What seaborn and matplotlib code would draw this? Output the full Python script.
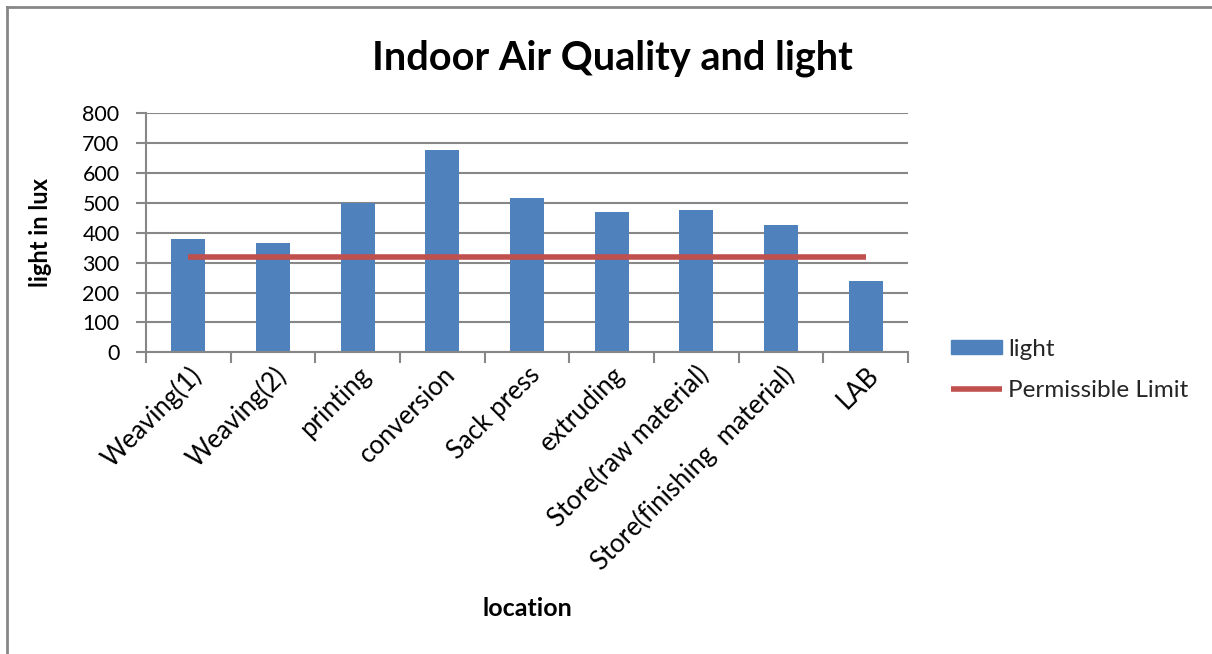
import numpy as np
import pandas as pd
import matplotlib
matplotlib.use("Agg")
import matplotlib.pyplot as plt
from matplotlib.patches import Patch
from matplotlib.lines import Line2D
import seaborn as sns

locations = ["Weaving(1)", "Weaving(2)", "printing", "conversion", "Sack press",
             "extruding", "Store(raw material)", "Store(finishing  material)", "LAB"]
light = [380, 366, 500, 677, 516, 470, 476, 426, 240]
permissible_limit = [320, 320, 320, 320, 320, 320, 320, 320, 320]
y_ticks = [0, 100, 200, 300, 400, 500, 600, 700, 800]

sns.set_theme(style="white")
plt.rcParams["font.family"] = ["Lato", "DejaVu Sans"]

BAR = "#4F81BD"
LINE = "#C0504D"
GRID = "#878787"

fig = plt.figure(figsize=(12.12, 6.54), dpi=100)
ax = fig.add_axes([146 / 1212, 1 - 352.3 / 654, 762 / 1212, 239 / 654])

df = pd.DataFrame({"location": locations, "light": light})
sns.barplot(data=df, x="location", y="light", color=BAR, saturation=1,
            width=0.4, ax=ax, errorbar=None, linewidth=0)
sns.lineplot(x=np.arange(len(locations)), y=permissible_limit, color=LINE,
             linewidth=4, ax=ax, solid_capstyle="butt")

ax.set_xlim(-0.5, len(locations) - 0.5)
ax.set_ylim(0, 800)
ax.set_yticks(y_ticks)
ax.set_yticklabels([str(v) for v in y_ticks], fontsize=15.5, color="black")
ax.yaxis.grid(True, color=GRID, linewidth=1.5)
ax.set_axisbelow(True)

for side in ["top", "right"]:
    ax.spines[side].set_visible(False)
for side in ["left", "bottom"]:
    ax.spines[side].set_color(GRID)
    ax.spines[side].set_linewidth(1.5)

ax.tick_params(axis="y", which="major", direction="out", length=7, width=1.5,
               color=GRID, left=True, pad=12)
# category boundaries carry the tick marks, labels sit at the centres
ax.set_xticks(np.arange(len(locations)))
ax.set_xticklabels(locations, rotation=45, ha="right", rotation_mode="anchor",
                   fontsize=18.5, color="black")
ax.tick_params(axis="x", which="major", length=0, pad=7)
ax.set_xticks(np.arange(-0.5, len(locations)), minor=True)
ax.tick_params(axis="x", which="minor", direction="out", length=8, width=1.5,
               color=GRID, bottom=True)

ax.set_xlabel("location", fontsize=18, fontweight="bold", color="black")
ax.set_ylabel("light in lux", fontsize=17, fontweight="bold", color="black")
ax.xaxis.set_label_coords(0.5, (352.3 - 597) / 239)
ax.yaxis.set_label_coords((52 - 146) / 762, 0.503)

fig.text(612 / 1212, 1 - 58 / 654, "Indoor Air Quality and light",
         fontsize=28.5, fontweight="bold", ha="center", va="center", color="black")

handles = [Patch(facecolor=BAR, edgecolor=BAR),
           Line2D([0], [0], color=LINE, linewidth=4, solid_capstyle="butt")]
fig.legend(handles, ["light", "Permissible Limit"], loc="center left",
           bbox_to_anchor=(951 / 1212, 1 - 370 / 654), frameon=False,
           fontsize=17.5, handlelength=2.1, handleheight=0.55, labelspacing=0.85,
           handletextpad=0.25, borderpad=0, borderaxespad=0)

# chart-area frame: left and top edges, the rest runs past the canvas
left_x = 7 / 1212
top_y = 1 - 7 / 654
fig.add_artist(Line2D([left_x, left_x], [-0.1, top_y], transform=fig.transFigure,
                      color=GRID, linewidth=2, solid_capstyle="projecting"))
fig.add_artist(Line2D([left_x, 1.1], [top_y, top_y], transform=fig.transFigure,
                      color=GRID, linewidth=2, solid_capstyle="projecting"))

fig.savefig("out.png", dpi=100)
